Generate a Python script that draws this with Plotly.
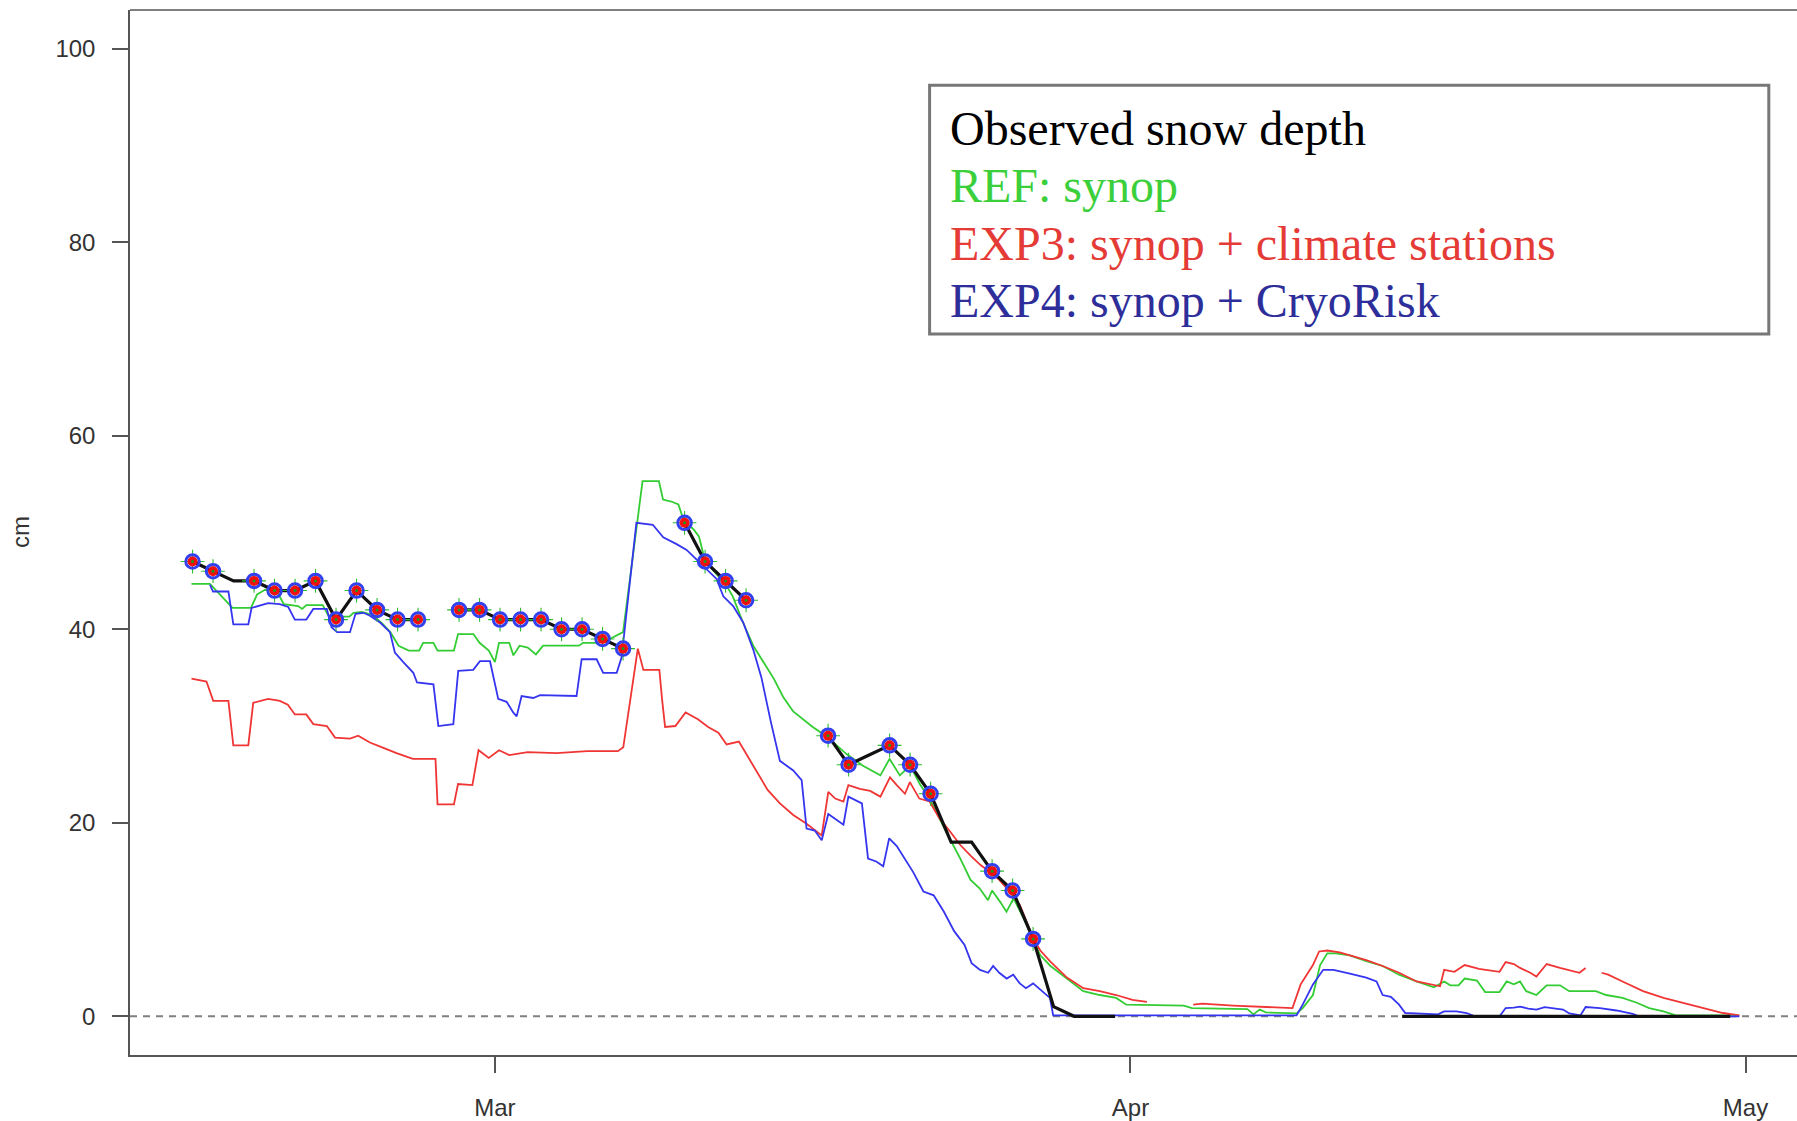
import plotly.graph_objects as go
import pandas as pd

# ---------------- data (days relative to 1 March, 00:00) ----------------
BASE = pd.Timestamp("2013-03-01")

# observed snow depth, one value per day at 06:00, days -15 .. 60
obs_day = list(range(-15, 61))
obs_cm = [47, 46, 45, 45, 44, 44, 45, 41, 44, 42, 41, 41, None,
          42, 42, 41, 41, 41, 40, 40, 39, 38, None, None,
          51, 47, 45, 43, None, None, None,
          29, 26, 27, 28, 26, 23, 18, 18, 15, 13, 8, 1, 0, 0, 0] \
         + [None] * 13 + [0] * 17
# 1 = observation shown with a marker (assimilated)
obs_used = [1, 1, 0, 1, 1, 1, 1, 1, 1, 1, 1, 1, 0,
            1, 1, 1, 1, 1, 1, 1, 1, 1, 0, 0,
            1, 1, 1, 1, 0, 0, 0,
            1, 1, 0, 1, 1, 1, 0, 0, 1, 1, 1, 0, 0, 0, 0] \
           + [0] * 13 + [0] * 17

ref_t = [-14.8, -13.9, -12.8, -11.9, -11.6, -11.2, -10.6, -10.3, -9.6, -9.4, -9.2, -8.4, -8.1,
         -7.1, -6.9, -6.5, -6.0, -5.5, -5.1, -4.7, -4.2, -3.7, -3.5, -3.0, -2.8, -2.0, -1.8,
         -1.05, -0.75, -0.3, 0.0, 0.2, 0.7, 0.9, 1.2, 1.6, 2.0, 2.35, 4.1, 4.3, 5.0, 5.6, 6.25,
         7.2, 8.0, 8.2, 8.6, 8.95, 9.2, 9.7, 9.95, 10.15, 10.6, 11.3, 11.6, 12.1, 12.6, 13.1,
         13.6, 14.06, 14.55, 15.5, 16.2, 17.15, 17.95, 18.8, 19.25, 19.75, 20.25, 20.75, 21.2,
         22.0, 22.7, 23.2, 23.65, 24.05, 24.25, 24.65, 24.95, 25.3, 25.95, 26.25, 26.6, 27.1,
         27.9, 28.7, 29.5, 30.3, 30.8, 33.6, 34.0, 36.7, 37.0, 37.3, 37.6, 39.1, 39.4, 39.9,
         40.25, 40.6, 41.0, 41.7, 42.5, 43.3, 44.1, 44.95, 45.8, 46.3, 46.6, 47.0, 47.3, 47.9,
         48.3, 49.0, 49.35, 49.7, 50.0, 50.3, 50.8, 51.3, 51.95, 52.4, 53.7, 54.2, 55.0, 55.7,
         56.3, 57.0, 57.6, 60.6]
ref_cm = [44.7, 44.7, 42.2, 42.2, 43.6, 44.1, 43.8, 42.6, 42.4, 42.1, 42.5, 42.5, 41.3,
          41.3, 41.7, 41.8, 41.5, 40.6, 39.7, 38.3, 37.8, 37.8, 38.6, 38.6, 37.8, 37.8, 39.5,
          39.5, 38.6, 37.8, 36.6, 38.6, 38.6, 37.3, 38.3, 38.1, 37.4, 38.3, 38.3, 38.6, 38.6, 39.0, 39.7,
          55.3, 55.3, 53.4, 53.2, 52.9, 51.3, 50.3, 49.6, 47.9, 46.2, 44.5, 43.4, 40.7, 38.3, 36.6,
          34.9, 33.0, 31.5, 29.9, 28.9, 27.1, 25.9, 24.9, 26.6, 24.9, 25.9, 23.9, 22.5,
          19.1, 16.3, 14.1, 13.2, 12.0, 13.0, 11.8, 10.8, 12.2, 9.4, 7.9, 6.3, 5.2,
          3.9, 2.6, 2.2, 1.9, 1.2, 1.1, 0.85, 0.75, 0.2, 0.7, 0.4, 0.3, 0.85, 2.2,
          5.3, 6.5, 6.5, 6.3, 5.7, 5.2, 4.3, 3.6, 3.0, 3.6, 3.2, 3.2, 3.9, 3.7,
          2.5, 2.5, 3.6, 3.3, 3.6, 2.6, 2.2, 3.2, 3.2, 2.6, 2.6, 2.2, 1.9, 1.4,
          0.85, 0.5, 0.1, 0.1]

exp3_t = [-14.8, -14.07, -13.74, -13.0, -12.76, -12.03, -11.79, -11.06, -10.49, -10.1, -9.76,
          -9.2, -8.86, -8.2, -7.8, -7.07, -6.67, -6.1, -5.5, -4.8, -4.0, -2.9, -2.8, -2.0, -1.8,
          -1.1, -0.8, -0.3, 0.2, 0.7, 1.6, 3.0, 4.5, 6.0, 6.26, 6.67, 6.97, 7.24, 8.02, 8.15,
          8.3, 8.8, 9.3, 9.9, 10.4, 10.9, 11.3, 11.9, 12.3, 12.7, 13.3, 13.9, 14.55, 15.2, 15.94,
          16.26, 16.6, 17.0, 17.24, 17.8, 18.3, 18.8, 19.27, 19.6, 20.0, 20.24, 20.7, 21.2, 21.7,
          22.2, 22.7, 23.2, 23.7, 24.1, 24.6, 25.1, 25.6, 26.25, 26.6, 27.07, 27.9, 28.7, 29.5,
          30.3, 31.1, 31.8, 32.9, 34.06, 34.5, 36.0, 37.5, 38.9, 39.3, 39.6, 39.9, 40.2, 40.6,
          41.2, 41.9, 42.5, 43.3, 44.1, 44.96, 45.8, 46.1, 46.3, 46.8, 47.3, 48.0, 49.0, 49.3,
          49.7, 50.0, 50.5, 50.8, 51.3, 51.95, 52.9, 53.2, 53.6, 53.98, 54.3, 55.0, 56.0, 57.0,
          57.96, 58.9, 59.9, 60.7]
exp3_cm = [34.9, 34.6, 32.6, 32.6, 28.0, 28.0, 32.4, 32.8, 32.6, 32.2, 31.2,
           31.2, 30.2, 30.0, 28.8, 28.7, 29.0, 28.3, 27.8, 27.2, 26.6, 26.6, 21.9, 21.9, 24.0,
           23.9, 27.5, 26.7, 27.5, 27.0, 27.3, 27.2, 27.4, 27.4, 27.8, 33.5, 38.0, 35.8, 35.8, 32.8,
           29.9, 30.0, 31.4, 30.7, 29.9, 29.3, 28.1, 28.4, 27.0, 25.5, 23.4, 22.0, 20.8, 19.9, 18.7,
           23.2, 22.5, 22.2, 23.9, 23.5, 23.3, 22.7, 24.7, 23.9, 23.0, 24.2, 22.5, 22.2, 20.4,
           19.1, 17.7, 16.6, 15.6, 15.0, 14.1, 12.9, 11.5, 8.1, 6.8, 5.7, 4.0, 2.9, 2.6,
           2.2, 1.7, 1.5, None, 1.2, 1.3, 1.1, 1.0, 0.85, 3.3, 4.3, 5.3, 6.7, 6.8,
           6.6, 6.2, 5.8, 5.2, 4.5, 3.6, 3.2, 3.1, 4.8, 4.6, 5.3, 4.9, 4.6, 5.6,
           5.4, 5.0, 4.5, 4.1, 5.4, 5.0, 4.5, 5.0, None, 4.5, 4.3, 3.6, 2.6, 1.9,
           1.4, 0.85, 0.34, 0.1]

exp4_t = [-13.9, -13.75, -13.0, -12.76, -12.03, -11.87, -11.06, -10.5, -10.08, -9.76, -9.2,
          -8.86, -8.2, -7.97, -7.7, -7.07, -6.8, -6.4, -6.1, -5.6, -5.12, -4.88, -4.47, -3.98,
          -3.8, -3.0, -2.76, -2.03, -1.79, -1.06, -0.73, -0.24, 0.16, 0.57, 0.89, 1.06, 1.3,
          1.87, 2.2, 3.98, 4.23, 4.96, 5.28, 5.94, 6.18, 6.9, 7.7, 8.21, 8.86, 9.35, 9.84,
          10.33, 10.81, 11.14, 11.62, 12.11, 12.6, 13.0, 13.45, 13.9, 14.55, 14.96, 15.2, 15.6,
          15.94, 16.26, 16.6, 17.0, 17.24, 17.9, 18.2, 18.6, 18.94, 19.23, 19.6, 19.9, 20.4,
          20.9, 21.4, 21.9, 22.4, 22.9, 23.25, 23.66, 24.06, 24.3, 24.6, 24.96, 25.28, 25.6,
          25.9, 26.25, 26.6, 26.9, 27.07, 27.23, 39.1, 39.4, 39.9, 40.4, 40.9, 41.7, 42.5, 43.0,
          43.3, 43.7, 44.1, 44.4, 46.0, 46.3, 46.9, 47.4, 47.8, 49.0, 49.3, 49.7, 50.0, 50.4,
          50.8, 51.2, 52.1, 52.4, 52.95, 53.2, 53.9, 54.7, 55.5, 55.8, 60.7]
exp4_cm = [44.6, 43.9, 43.9, 40.5, 40.5, 42.2, 42.7, 42.6, 42.3, 41.0, 41.0,
           42.1, 42.1, 40.2, 39.7, 39.7, 41.6, 41.7, 41.4, 40.7, 39.7, 37.6, 36.6, 35.5,
           34.5, 34.3, 30.0, 30.2, 35.7, 35.8, 36.7, 36.7, 32.8, 32.5, 31.4, 31.0, 33.1,
           32.9, 33.2, 33.1, 36.9, 36.9, 35.5, 35.5, 37.1, 51.0, 50.8, 49.5, 48.8, 48.2, 47.2,
           46.2, 45.2, 43.4, 42.4, 40.7, 37.9, 35.0, 30.5, 26.4, 25.4, 24.4, 19.4, 19.2,
           18.2, 20.9, 20.4, 19.8, 22.7, 22.0, 16.3, 16.0, 15.5, 18.4, 17.6, 16.6, 14.9,
           12.9, 12.5, 10.8, 8.8, 7.4, 5.5, 4.8, 4.5, 5.2, 4.5, 3.9, 4.3, 3.4,
           2.9, 3.4, 2.8, 2.2, 1.9, 0.1, 0.1, 1.2, 3.3, 4.8, 4.8, 4.4, 4.0, 3.6,
           2.2, 2.0, 1.2, 0.34, 0.2, 0.5, 0.5, 0.34, 0.0, 0.0, 0.85, 0.9, 1.0, 0.8,
           0.7, 0.95, 0.7, 0.3, 0.1, 0.96, 0.85, 0.6, 0.24, 0.0, 0.0]

x_tick_days = [0, 31, 61]
x_tick_text = ["Mar", "Apr", "May"]
y_ticks = [0, 20, 40, 60, 80, 100]

legend_lines = ["Observed snow depth", "REF: synop",
                "EXP3: synop + climate stations", "EXP4: synop + CryoRisk"]
legend_colors = ["#000000", "#3ccf3c", "#e53b36", "#2e2e9a"]


def to_time(days, hour=0.0):
    return [BASE + pd.Timedelta(days=d + hour / 24.0) for d in days]


obs_x = to_time(obs_day, 6)
mk_x = [x for x, u in zip(obs_x, obs_used) if u]
mk_y = [v for v, u in zip(obs_cm, obs_used) if u]

fig = go.Figure()
fig.add_trace(go.Scatter(x=to_time(ref_t), y=ref_cm, mode="lines",
                         line=dict(color="#33cc33", width=1.8), connectgaps=False))
fig.add_trace(go.Scatter(x=to_time(exp3_t), y=exp3_cm, mode="lines",
                         line=dict(color="#f03535", width=1.8), connectgaps=False))
fig.add_trace(go.Scatter(x=to_time(exp4_t), y=exp4_cm, mode="lines",
                         line=dict(color="#3535f0", width=1.8), connectgaps=False))
fig.add_trace(go.Scatter(x=obs_x, y=obs_cm, mode="lines",
                         line=dict(color="#111111", width=3.2), connectgaps=False))
# markers: green plus (under), blue ring, red dot, small green centre
fig.add_trace(go.Scatter(x=mk_x, y=mk_y, mode="markers",
                         marker=dict(symbol="cross-thin", size=17, color="#2fbf2f",
                                     line=dict(color="#2fbf2f", width=1.1))))
fig.add_trace(go.Scatter(x=mk_x, y=mk_y, mode="markers",
                         marker=dict(symbol="circle-open", size=13.5, color="#3340ee",
                                     line=dict(color="#3340ee", width=3))))
fig.add_trace(go.Scatter(x=mk_x, y=mk_y, mode="markers",
                         marker=dict(symbol="circle", size=10, color="#f01010",
                                     line=dict(width=0))))
fig.add_trace(go.Scatter(x=mk_x, y=mk_y, mode="markers",
                         marker=dict(symbol="circle", size=3, color="#1a9a1a",
                                     line=dict(width=0))))

W, H = 1797, 1121
ML, MR, MT, MB = 130, 0, 10, 64
pw, ph = W - ML - MR, H - MT - MB


def px_x(p):
    return (p - ML) / pw


def px_y(p):
    return (H - MB - p) / ph


shapes = [
    dict(type="line", xref="paper", yref="y", x0=0, x1=1, y0=0, y1=0,
         line=dict(color="#808080", width=2, dash="7px,6px"), layer="below"),
    dict(type="line", xref="paper", yref="paper", x0=0, x1=1, y0=1, y1=1,
         line=dict(color="#555555", width=1.5)),
    dict(type="rect", xref="paper", yref="paper",
         x0=px_x(929.6), x1=px_x(1768.8), y0=px_y(334.7), y1=px_y(85.5),
         line=dict(color="#777777", width=3), fillcolor="white", layer="above"),
]

annotations = [
    dict(text="cm", xref="paper", yref="paper", x=0, y=0.5, xshift=-109.4,
         textangle=-90, showarrow=False, xanchor="center", yanchor="middle",
         font=dict(family="Liberation Sans, Arial, sans-serif", size=24, color="#333333")),
]
for txt, col, cy in zip(legend_lines, legend_colors, [128.4, 185.7, 244.2, 301.5]):
    annotations.append(dict(text=txt, xref="paper", yref="paper", x=px_x(948), y=px_y(cy),
                            xanchor="left", yanchor="middle", showarrow=False,
                            font=dict(family="Liberation Serif, Times New Roman, serif",
                                      size=48, color=col)))

fig.update_layout(
    width=W, height=H, margin=dict(l=ML, r=MR, t=MT, b=MB),
    paper_bgcolor="white", plot_bgcolor="white", showlegend=False,
    shapes=shapes, annotations=annotations,
    xaxis=dict(type="date",
               range=[BASE + pd.Timedelta(days=-17.80), BASE + pd.Timedelta(days=63.51)],
               tickvals=to_time(x_tick_days), ticktext=x_tick_text,
               ticks="outside", ticklen=16, tickwidth=1.5, tickcolor="#555555",
               showline=True, linecolor="#555555", linewidth=1.5,
               showgrid=False, zeroline=False, ticklabelstandoff=14,
               tickfont=dict(family="Liberation Sans, Arial, sans-serif", size=24, color="#333333")),
    yaxis=dict(range=[-4, 104], tickvals=y_ticks, ticks="outside", ticklen=16, tickwidth=1.5,
               tickcolor="#555555", showline=True, linecolor="#555555", linewidth=1.5,
               showgrid=False, zeroline=False, ticklabelstandoff=12,
               tickfont=dict(family="Liberation Sans, Arial, sans-serif", size=24, color="#333333")),
)

fig.write_html("out.html")
